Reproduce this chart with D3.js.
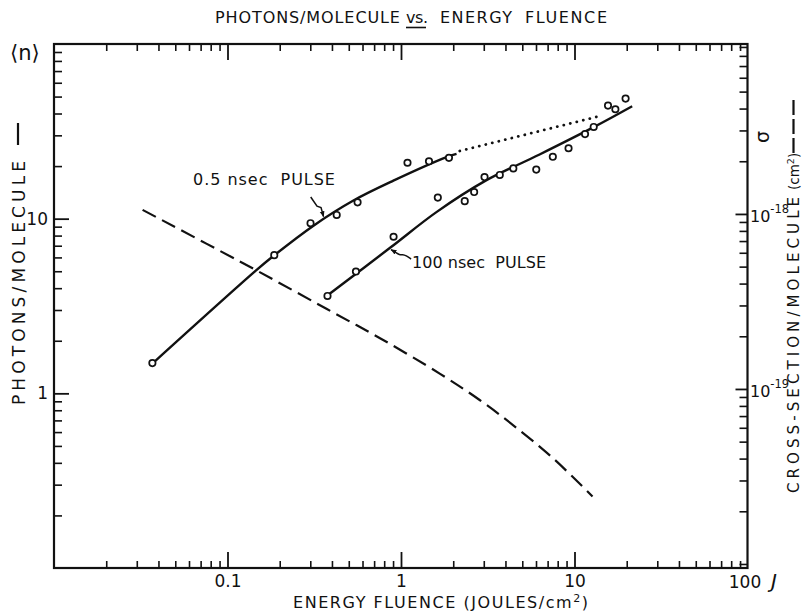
<!DOCTYPE html>
<html><head><meta charset="utf-8">
<script src="https://cdn.jsdelivr.net/npm/d3@7"></script>
<style>
body{margin:0;background:#fff}
text{font-family:"DejaVu Sans",sans-serif;fill:#111}
</style>
</head><body>
<svg id="c" width="804" height="614"></svg>
<script>
// ---- data ----
const xTickValues = [0.1, 1, 10, 100];
const xTickLabels = ["0.1", "1", "10", "100"];
const yLeftTickValues = [1, 10];
const yLeftTickLabels = ["1", "10"];
const yRightTickValues = [1e-19, 1e-18];
const yRightTickExponents = ["-19", "-18"];

// 0.5 nsec pulse measurements
const fluence05 = [0.0369, 0.186, 0.301, 0.426, 0.562, 1.09, 1.45, 1.89];
const photons05 = [1.49, 6.18, 9.42, 10.5, 12.4, 20.9, 21.3, 22.3];
// 100 nsec pulse measurements
const fluence100 = [0.377, 0.550, 0.906, 1.63, 2.33, 2.64, 3.03, 3.71, 4.44, 6.02, 7.50, 9.24, 11.5, 12.9, 15.6, 17.2, 19.7];
const photons100 = [3.61, 4.98, 7.88, 13.2, 12.6, 14.2, 17.3, 17.8, 19.4, 19.1, 22.6, 25.3, 30.5, 33.5, 44.4, 42.3, 48.7];
// fitted curves
const fit05Fluence = [0.0369, 0.145, 0.1845, 0.313, 0.532, 0.904, 1.83, 2.09];
const fit05Photons = [1.48, 5.02, 6.13, 9.12, 12.7, 16.5, 22.5, 23.5];
const fit100Fluence = [0.373, 0.865, 1.60, 3.04, 6.29, 12.9, 21.5];
const fit100Photons = [3.61, 6.81, 10.9, 16.4, 23.3, 33.4, 44.0];
// dotted extrapolation of 0.5 nsec curve
const extrapFluence = [2.18, 13.9];
const extrapPhotons = [24.4, 38.6];
// cross-section (right axis), dashed
const sigmaFluence = [0.0324, 0.145, 0.374, 0.757, 1.68, 2.84, 4.42, 7.50, 12.7];
const sigmaCm2 = [1.055e-18, 4.79e-19, 2.86e-19, 1.95e-19, 1.22e-19, 8.65e-20, 6.22e-20, 4.03e-20, 2.43e-20];

// annotation arrow tips (data space)
const label05Tip = [0.36, 10.0];
const label100Tip = [0.865, 6.70];

// ---- drawing ----
const svg = d3.select("#c");
const L = 54, R = 747.5, T = 44, B = 568;
const x = d3.scaleLog().domain([0.01, 100]).range([L, 748]);
const yL = d3.scaleLog().domain([0.1, 100]).range([B, T]);
const yR = d3.scaleLog().domain([Math.pow(10, -20.023), Math.pow(10, -17.029)]).range([B, T]);

function logMinor(lo, hi, majors) {
  const out = [];
  for (let d = Math.floor(Math.log10(lo)); d <= Math.ceil(Math.log10(hi)); d++) {
    for (let k = 1; k <= 9; k++) {
      const v = k * Math.pow(10, d);
      if (v > lo * 1.001 && v < hi * 0.999 && !majors.some(m => Math.abs(m - v) / v < 1e-6)) out.push(v);
    }
  }
  return out;
}
function fit(sel, target) {
  const n = sel.text().length;
  const len = sel.node().getComputedTextLength();
  sel.attr("letter-spacing", ((target - len) / (n - 1)).toFixed(2));
}
function styleAxis(g, w) {
  g.select(".domain").remove();
  g.selectAll(".tick line").attr("stroke", "#111").attr("stroke-width", w);
  g.selectAll("text").attr("font-family", "DejaVu Sans").attr("font-size", 17).attr("fill", "#111");
}

const xMinor = logMinor(0.01, 100, [0.1, 1, 10]);
const yLMinor = logMinor(0.1, 100, [1, 10]);
const yRMinor = logMinor(yR.domain()[0], yR.domain()[1], yRightTickValues);

// bottom axis
svg.append("g").attr("transform", `translate(0,${B})`)
  .call(d3.axisBottom(x).tickValues(xMinor).tickSize(-7).tickFormat("")).call(g => styleAxis(g, 1.6));
svg.append("g").attr("transform", `translate(0,${B})`)
  .call(d3.axisBottom(x).tickValues(xTickValues.slice(0, 3)).tickSize(-16).tickPadding(7).tickFormat((d, i) => xTickLabels[i]))
  .call(g => styleAxis(g, 1.8));
svg.append("text").attr("x", x(100) - 3).attr("y", 588).attr("text-anchor", "middle").attr("font-size", 17).text(xTickLabels[3]);
// top axis
svg.append("g").attr("transform", `translate(0,${T})`)
  .call(d3.axisTop(x).tickValues(xMinor).tickSize(-7).tickFormat("")).call(g => styleAxis(g, 1.6));
svg.append("g").attr("transform", `translate(0,${T})`)
  .call(d3.axisTop(x).tickValues(xTickValues.slice(0, 3)).tickSize(-16).tickFormat("")).call(g => styleAxis(g, 1.8));
// left axis
svg.append("g").attr("transform", `translate(${L},0)`)
  .call(d3.axisLeft(yL).tickValues(yLMinor).tickSize(-8).tickFormat("")).call(g => styleAxis(g, 1.6));
svg.append("g").attr("transform", `translate(${L},0)`)
  .call(d3.axisLeft(yL).tickValues(yLeftTickValues).tickSize(-15).tickPadding(6).tickFormat((d, i) => yLeftTickLabels[i]))
  .call(g => styleAxis(g, 1.8));
// right axis
svg.append("g").attr("transform", `translate(${R},0)`)
  .call(d3.axisRight(yR).tickValues(yRMinor).tickSize(-8).tickFormat("")).call(g => styleAxis(g, 1.6));
svg.append("g").attr("transform", `translate(${R},0)`)
  .call(d3.axisRight(yR).tickValues(yRightTickValues).tickSize(-12).tickFormat("")).call(g => styleAxis(g, 1.8));
yRightTickValues.forEach((v, i) => {
  const t = svg.append("text").attr("x", 750).attr("y", yR(v) + 8).attr("font-size", 16);
  t.append("tspan").text("10");
  t.append("tspan").attr("dy", -9).attr("font-size", 11.5).text(yRightTickExponents[i]);
});

// frame
svg.append("rect").attr("x", L).attr("y", T).attr("width", R - L).attr("height", B - T)
  .attr("fill", "none").attr("stroke", "#111").attr("stroke-width", 2.2);

// curves
const lineL = d3.line().x(d => x(d[0])).y(d => yL(d[1])).curve(d3.curveCatmullRom.alpha(0.5));
const lineR = d3.line().x(d => x(d[0])).y(d => yR(d[1])).curve(d3.curveCatmullRom.alpha(0.5));

svg.append("path").datum(sigmaFluence.map((f, i) => [f, sigmaCm2[i]])).attr("d", lineR)
  .attr("fill", "none").attr("stroke", "#111").attr("stroke-width", 2.2).attr("stroke-dasharray", "15,7");
svg.append("path").datum(fit05Fluence.map((f, i) => [f, fit05Photons[i]])).attr("d", lineL)
  .attr("fill", "none").attr("stroke", "#111").attr("stroke-width", 2.4);
svg.append("path").datum(fit100Fluence.map((f, i) => [f, fit100Photons[i]])).attr("d", lineL)
  .attr("fill", "none").attr("stroke", "#111").attr("stroke-width", 2.4);
svg.append("path").datum(extrapFluence.map((f, i) => [f, extrapPhotons[i]])).attr("d", d3.line().x(d => x(d[0])).y(d => yL(d[1])))
  .attr("fill", "none").attr("stroke", "#111").attr("stroke-width", 2.8)
  .attr("stroke-linecap", "round").attr("stroke-dasharray", "0.1,6.6");

// points
const pts = fluence05.map((f, i) => [f, photons05[i]]).concat(fluence100.map((f, i) => [f, photons100[i]]));
svg.append("g").selectAll("circle").data(pts).join("circle")
  .attr("cx", d => x(d[0])).attr("cy", d => yL(d[1])).attr("r", 3.2)
  .attr("fill", "#fff").attr("stroke", "#111").attr("stroke-width", 1.7);

// arrowhead marker
svg.append("defs").append("marker").attr("id", "ah").attr("viewBox", "0 0 10 10")
  .attr("refX", 9).attr("refY", 5).attr("markerWidth", 6).attr("markerHeight", 6)
  .attr("markerUnits", "userSpaceOnUse").attr("orient", "auto")
  .append("path").attr("d", "M0,1 L10,5 L0,9 z").attr("fill", "#111");

// annotation 0.5 nsec
{
  const tx = x(label05Tip[0]), ty = yL(label05Tip[1]);
  const p = [[-13.3, -21.7], [-7, -12.5], [-3, -11], [-0.5, -2]];
  svg.append("path").attr("d", d3.line()(p.map(q => [tx + q[0], ty + q[1]])))
    .attr("fill", "none").attr("stroke", "#111").attr("stroke-width", 1.5).attr("marker-end", "url(#ah)");
  const t = svg.append("text").attr("x", 193).attr("y", 185).attr("font-size", 16).attr("xml:space", "preserve").text("0.5 nsec  PULSE");
  fit(t, 142);
}
// annotation 100 nsec
{
  const tx = x(label100Tip[0]), ty = yL(label100Tip[1]);
  const p = [[21, 10], [16, 6.5], [12.5, 5.5], [9.5, 6], [5, 3], [1, 0.6]];
  svg.append("path").attr("d", d3.line().curve(d3.curveBasis)(p.map(q => [tx + q[0], ty + q[1]])))
    .attr("fill", "none").attr("stroke", "#111").attr("stroke-width", 1.5).attr("marker-end", "url(#ah)");
  const t = svg.append("text").attr("x", 412).attr("y", 268).attr("font-size", 16).attr("xml:space", "preserve").text("100 nsec  PULSE");
  fit(t, 134);
}

// title
{
  const t1 = svg.append("text").attr("x", 215).attr("y", 23).attr("font-size", 16).text("PHOTONS/MOLECULE");
  fit(t1, 185);
  const t2 = svg.append("text").attr("x", 406).attr("y", 23).attr("font-size", 16).text("vs.");
  fit(t2, 22);
  svg.append("line").attr("x1", 406).attr("x2", 426).attr("y1", 27.5).attr("y2", 27.5).attr("stroke", "#111").attr("stroke-width", 1.6);
  const t3 = svg.append("text").attr("x", 440).attr("y", 23).attr("font-size", 16).text("ENERGY");
  fit(t3, 72);
  const t4 = svg.append("text").attr("x", 525).attr("y", 23).attr("font-size", 16).text("FLUENCE");
  fit(t4, 82);
}
// x-axis title
{
  const t = svg.append("text").attr("x", 293).attr("y", 608).attr("font-size", 16);
  t.append("tspan").text("ENERGY FLUENCE (JOULES/cm");
  t.append("tspan").attr("dy", -6).attr("font-size", 11).text("2");
  t.append("tspan").attr("dy", 6).text(")");
  fit(t, 295);
  svg.append("text").attr("x", 771).attr("y", 588).attr("font-family", "DejaVu Serif").attr("font-style", "italic")
    .attr("font-size", 20).text("J");
}
// left axis title
{
  const t = svg.append("text").attr("transform", "translate(25,405) rotate(-90)").attr("font-size", 17).text("PHOTONS/MOLECULE");
  fit(t, 244);
  svg.append("line").attr("x1", 18).attr("x2", 18).attr("y1", 123).attr("y2", 145).attr("stroke", "#111").attr("stroke-width", 2.2);
  svg.append("text").attr("x", 10).attr("y", 60).attr("font-size", 21).text("\u27E8n\u27E9");
}
// right axis title
{
  const t = svg.append("text").attr("transform", "translate(799,493) rotate(-90)").attr("font-size", 15).text("CROSS-SECTION/MOLECULE");
  fit(t, 296);
  const t2 = svg.append("text").attr("transform", "translate(799,190) rotate(-90)").attr("font-size", 13.5);
  t2.append("tspan").text("(cm");
  t2.append("tspan").attr("dy", -5).attr("font-size", 9.5).text("2");
  t2.append("tspan").attr("dy", 5).text(")");
  svg.append("line").attr("x1", 793.5).attr("x2", 793.5).attr("y1", 153).attr("y2", 100)
    .attr("stroke", "#111").attr("stroke-width", 2.2).attr("stroke-dasharray", "15,4");
  svg.append("text").attr("transform", "translate(769,137) rotate(-90)").attr("text-anchor", "middle")
    .attr("font-size", 19).text("\u03C3");
}
</script>
</body></html>
